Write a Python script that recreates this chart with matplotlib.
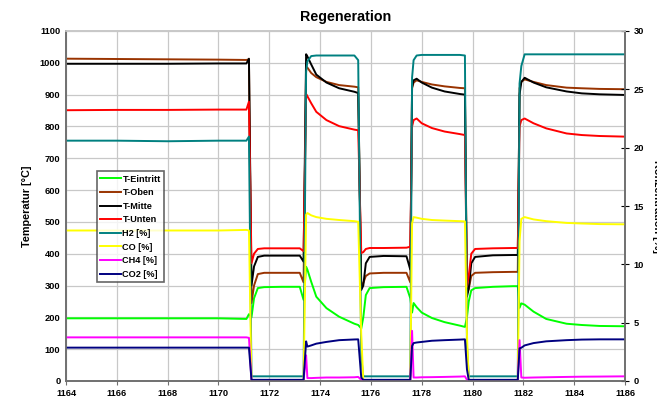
import numpy as np
import matplotlib.pyplot as plt

plt.rcParams['font.family'] = ['Liberation Sans', 'DejaVu Sans']
plt.rcParams['font.weight'] = 'bold'

# Zeit [h]
t = [1164.0, 1166.0, 1168.0, 1170.0, 1171.1, 1171.2,
     1171.3, 1171.4, 1171.55, 1171.8, 1172.5, 1173.2, 1173.35,
     1173.45, 1173.5, 1173.65, 1173.85, 1174.25, 1174.75, 1175.35, 1175.5,
     1175.62, 1175.7, 1175.8, 1175.95, 1176.5, 1177.4, 1177.55,
     1177.62, 1177.68, 1177.8, 1178.0, 1178.4, 1178.9, 1179.5, 1179.7,
     1179.78, 1179.85, 1179.95, 1180.1, 1180.8, 1181.6, 1181.78,
     1181.85, 1181.92, 1182.05, 1182.4, 1182.9, 1183.7, 1184.3, 1185.0, 1186.0]

# Temperaturen [°C]
t_eintritt = [197, 197, 197, 197, 195, 210,
              200, 260, 292, 295, 296, 296, 255,
              359, 350, 312, 265, 229, 202, 180, 176,
              165, 200, 270, 292, 295, 296, 260,
              215, 245, 232, 215, 198, 185, 174, 170,
              200, 250, 285, 292, 296, 298, 298,
              230, 244, 240, 218, 195, 180, 176, 173, 172]
t_oben = [1013, 1012, 1011, 1010, 1009, 1011,
          245, 300, 336, 340, 340, 340, 310,
          988, 985, 968, 955, 940, 930, 925, 923,
          300, 308, 330, 338, 340, 340, 310,
          920, 938, 945, 940, 932, 926, 921, 920,
          276, 290, 330, 340, 342, 343, 343,
          920, 940, 948, 940, 930, 922, 920, 918, 917]
t_mitte = [997, 997, 997, 998, 998, 1013,
           300, 360, 390, 394, 394, 394, 375,
           1027, 1020, 995, 963, 938, 920, 909, 905,
           286, 300, 370, 390, 393, 392, 350,
           924, 945, 950, 938, 922, 910, 902, 900,
           265, 290, 370, 390, 395, 396, 396,
           900, 940, 953, 938, 923, 910, 904, 901, 899]
t_unten = [851, 852, 852, 853, 853, 878,
           370, 400, 415, 417, 417, 417, 408,
           902, 895, 873, 846, 820, 801, 790, 788,
           402, 405, 415, 418, 418, 419, 422,
           800, 820, 825, 810, 795, 784, 776, 773,
           296, 330, 400, 415, 417, 418, 418,
           800, 820, 825, 810, 794, 778, 773, 770, 768]

# Konzentrationen [%]
h2 = [20.6, 20.6, 20.55, 20.6, 20.6, 20.95,
      0.4, 0.4, 0.4, 0.4, 0.4, 0.4, 0.4,
      26.5, 27.4, 27.85, 27.9, 27.9, 27.9, 27.9, 27.5,
      2.0, 0.4, 0.4, 0.4, 0.4, 0.4, 0.4,
      26.0, 27.5, 27.9, 27.95, 27.95, 27.95, 27.95, 27.9,
      3.0, 0.4, 0.4, 0.4, 0.4, 0.4, 0.4,
      25.5, 27.0, 28.0, 28.0, 28.0, 28.0, 28.0, 28.0, 28.0]
co = [12.9, 12.9, 12.9, 12.9, 12.95, 12.9,
      0.05, 0.05, 0.05, 0.05, 0.05, 0.05, 0.05,
      14.25, 14.4, 14.2, 14.05, 13.9, 13.8, 13.7, 13.65,
      4.0, 0.05, 0.05, 0.05, 0.05, 0.05, 0.05,
      13.5, 14.05, 14.0, 13.9, 13.8, 13.75, 13.7, 13.68,
      4.0, 0.05, 0.05, 0.05, 0.05, 0.05, 0.05,
      12.0, 13.9, 14.05, 13.85, 13.7, 13.55, 13.5, 13.45, 13.43]
ch4 = [3.74, 3.74, 3.74, 3.74, 3.74, 3.7,
       0.05, 0.05, 0.05, 0.05, 0.05, 0.05, 0.05,
       2.2, 0.25, 0.25, 0.27, 0.3, 0.3, 0.32, 0.35,
       0.1, 0.05, 0.05, 0.05, 0.05, 0.05, 0.05,
       4.3, 0.3, 0.3, 0.32, 0.33, 0.35, 0.38, 0.4,
       0.1, 0.05, 0.05, 0.05, 0.05, 0.05, 0.05,
       3.5, 0.3, 0.28, 0.3, 0.32, 0.35, 0.37, 0.38, 0.4]
co2 = [2.86, 2.86, 2.86, 2.86, 2.86, 2.86,
       0.1, 0.1, 0.1, 0.1, 0.1, 0.1, 0.1,
       3.4, 2.95, 3.05, 3.2, 3.35, 3.5, 3.56, 3.57,
       0.3, 0.1, 0.1, 0.1, 0.1, 0.1, 0.1,
       3.0, 3.25, 3.3, 3.35, 3.45, 3.5, 3.55, 3.57,
       1.0, 0.1, 0.1, 0.1, 0.1, 0.1, 0.1,
       2.8, 2.85, 3.05, 3.25, 3.4, 3.5, 3.55, 3.57, 3.57]

fig = plt.figure(figsize=(6.57, 4.0), dpi=100)
ax = fig.add_axes([66/657, 1-381/400, 559/657, 350/400])
ax2 = ax.twinx()

lw = 1.4
l1, = ax.plot(t, t_eintritt, color='#00ff00', lw=lw, label='T-Eintritt')
l2, = ax.plot(t, t_oben, color='#993300', lw=lw, label='T-Oben')
l3, = ax.plot(t, t_mitte, color='black', lw=lw, label='T-Mitte')
l4, = ax.plot(t, t_unten, color='red', lw=lw, label='T-Unten')
l5, = ax2.plot(t, h2, color='#008080', lw=lw, label='H2 [%]')
l6, = ax2.plot(t, co, color='#ffff00', lw=lw, label='CO [%]')
l7, = ax2.plot(t, ch4, color='#ff00ff', lw=lw, label='CH4 [%]')
l8, = ax2.plot(t, co2, color='#000080', lw=lw, label='CO2 [%]')

ax.set_xlim(1164, 1186)
ax.set_ylim(0, 1100)
ax2.set_ylim(0, 30)
ax.set_xticks(np.arange(1164, 1187, 2))
ax.set_yticks(np.arange(0, 1101, 100))
ax2.set_yticks(np.arange(0, 31, 5))

ax.grid(True, color='#c8c8c8', lw=0.9)
ax.set_axisbelow(True)

for a in (ax, ax2):
    a.spines['top'].set_color('#c8c8c8')
    a.spines['left'].set_color('#707070')
    a.spines['right'].set_color('#707070')
    a.spines['bottom'].set_color('#707070')
    for s in a.spines.values():
        s.set_linewidth(1.2)

ax.tick_params(axis='x', labelsize=6.7, direction='out', length=3, color='#707070', pad=3)
ax.tick_params(axis='y', labelsize=6.7, direction='out', length=0, pad=4)
ax2.tick_params(axis='y', labelsize=6.7, direction='inout', length=6, color='black', pad=3)
for lab in ax.get_xticklabels() + ax.get_yticklabels() + ax2.get_yticklabels():
    lab.set_fontweight('bold')

ax.set_title('Regeneration', fontsize=10.3, fontweight='bold', pad=7)
fig.text(27.5/657, 1-206/400, 'Temperatur [°C]', rotation=90, fontsize=7.8,
         fontweight='bold', ha='center', va='center')
fig.text(657/657, 1-206/400, 'Konzentration [%]', rotation=270, fontsize=7.8,
         fontweight='bold', ha='center', va='center')

leg = ax2.legend(handles=[l1, l2, l3, l4, l5, l6, l7, l8], loc='upper left',
                 bbox_to_anchor=(0.055, 0.6), fontsize=6.6, frameon=True,
                 fancybox=False, handlelength=2.2, handletextpad=0.2,
                 labelspacing=0.5, borderpad=0.4, borderaxespad=0)
leg.get_frame().set_edgecolor('#404040')
leg.get_frame().set_linewidth(1.2)
for txt in leg.get_texts():
    txt.set_fontweight('bold')

fig.savefig('out.png', dpi=100)
